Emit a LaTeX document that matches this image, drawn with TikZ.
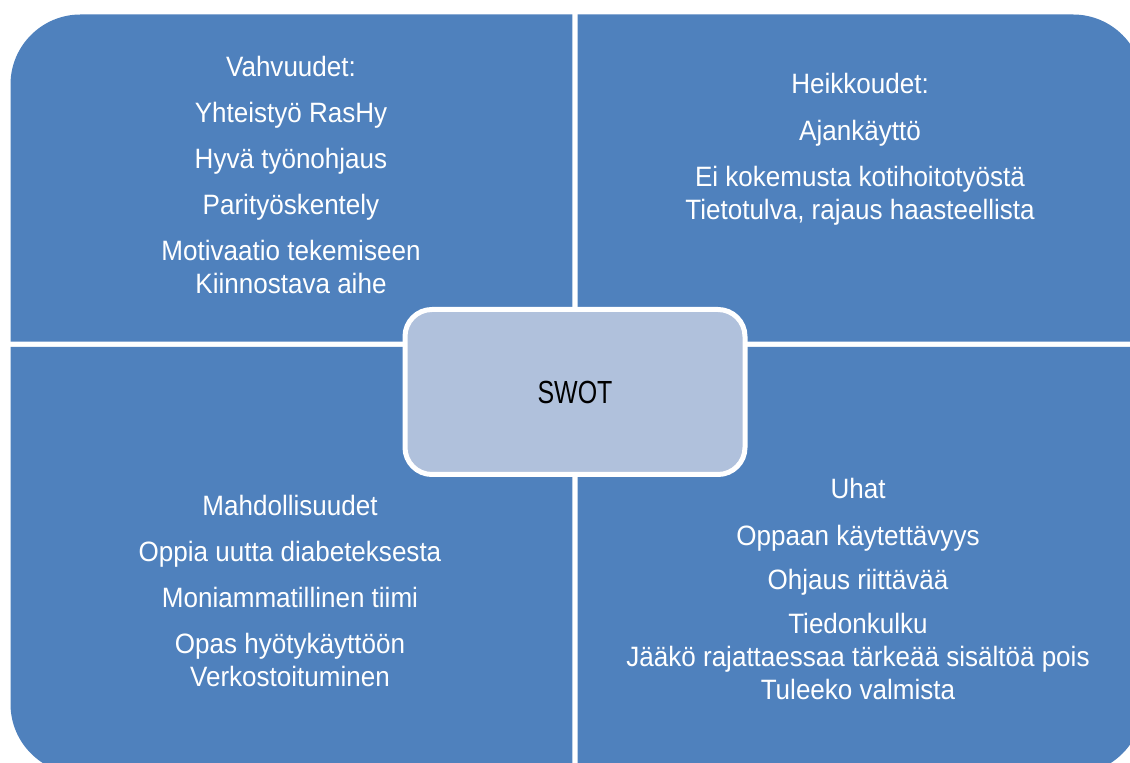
\documentclass[tikz,border=0pt]{standalone}
\usepackage{fontspec}
\setmainfont{Liberation Sans}
\newfontfamily\quadfont{Liberation Sans}[FakeStretch=0.93]
\newfontfamily\swotfont{Liberation Sans}[FakeStretch=0.78]
\usepackage{tikz}
\definecolor{quadblue}{HTML}{4F81BD}
\definecolor{swotfill}{HTML}{B0C1DC}

\begin{document}
\begin{tikzpicture}[x=1pt, y=1pt,
	quad/.style={fill=quadblue},
	quadtext/.style={anchor=base, align=center, text=white, inner sep=0pt,
		font=\quadfont\fontsize{28}{33}\selectfont},
	swotbox/.style={draw=white, line width=5pt, fill=swotfill, rounded corners=27pt,
		minimum width=340pt, minimum height=165pt, inner sep=0pt,
		font=\swotfont\fontsize{32}{36}\selectfont}]

\useasboundingbox (0,0) rectangle (1130,763);
\fill[white] (0,0) rectangle (1130,763);

\begin{scope}
\clip (0,0) rectangle (1130,763);

% four quadrants, outer corner rounded
\fill[quad] (572.3,421.3) -- (10.5,421.3) -- (10.5,678.5)
	arc[start angle=180, end angle=90, radius=70] -- (572.3,748.5) -- cycle;
\fill[quad] (577.7,421.3) -- (577.7,748.5) -- (1073,748.5)
	arc[start angle=90, end angle=0, radius=70] -- (1143,421.3) -- cycle;
\fill[quad] (572.3,416) -- (10.5,416) -- (10.5,59)
	arc[start angle=180, end angle=270, radius=70] -- (572.3,-11) -- cycle;
\fill[quad] (577.7,416) -- (1143,416) -- (1143,59)
	arc[start angle=0, end angle=-90, radius=70] -- (577.7,-11) -- cycle;

% base = baseline of the last line
\node[quadtext] (strengths) at (291,469) {Vahvuudet:\\[13pt] Yhteistyö RasHy\\[13pt]
	Hyvä työnohjaus\\[13pt] Parityöskentely\\[13pt] Motivaatio tekemiseen\\ Kiinnostava aihe};
\node[quadtext] (weaknesses) at (860,543) {Heikkoudet:\\[14pt] Ajankäyttö\\[13pt]
	Ei kokemusta kotihoitotyöstä\\ Tietotulva, rajaus haasteellista};
\node[quadtext] (opportunities) at (290,76.3) {Mahdollisuudet\\[13pt] Oppia uutta diabeteksesta\\[13pt]
	Moniammatillinen tiimi\\[13pt] Opas hyötykäyttöön\\ Verkostoituminen};
\node[quadtext] (threats) at (858,63) {Uhat\\[14pt] Oppaan käytettävyys\\[11pt]
	Ohjaus riittävää\\[11pt] Tiedonkulku\\ Jääkö rajattaessaa tärkeää sisältöä pois\\
	Tuleeko valmista};

\node[swotbox] (swot) at (575,371) {SWOT};
\end{scope}

\end{tikzpicture}
\end{document}
